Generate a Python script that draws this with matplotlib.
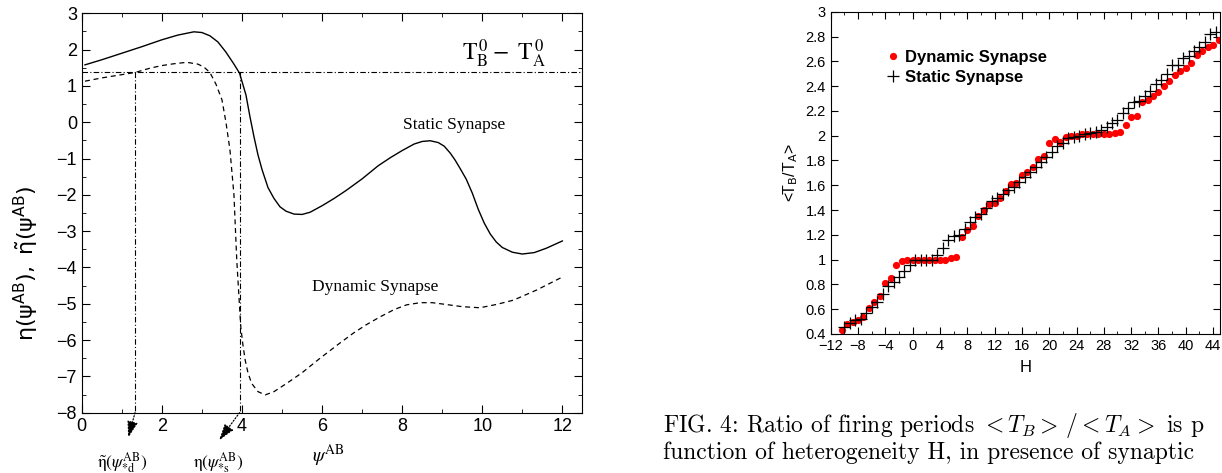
import matplotlib
matplotlib.use("Agg")
import matplotlib.pyplot as plt
from matplotlib.ticker import MultipleLocator, FuncFormatter

# left panel: eta curves
psi_static = [0.08, 0.5, 1.0, 1.5, 2.0, 2.4, 2.8, 3.0, 3.2, 3.4, 3.6, 3.8, 3.94, 4.1, 4.2,
              4.3, 4.4, 4.5, 4.65, 4.8, 4.95, 5.1, 5.3, 5.5, 5.7, 6.0, 6.3, 6.6, 7.0, 7.4,
              7.7, 8.0, 8.3, 8.5, 8.7, 8.9, 9.05, 9.2, 9.32, 9.45, 9.6, 9.75, 9.9, 10.05,
              10.2, 10.35, 10.5, 10.75, 11.0, 11.3, 11.6, 12.0]
eta_static = [1.58, 1.72, 1.90, 2.08, 2.27, 2.40, 2.49, 2.47, 2.38, 2.21, 1.93, 1.60, 1.35,
              0.75, 0.15, -0.40, -0.90, -1.30, -1.80, -2.10, -2.33, -2.45, -2.53, -2.54,
              -2.48, -2.30, -2.10, -1.88, -1.56, -1.20, -0.98, -0.78, -0.60, -0.53, -0.51,
              -0.56, -0.66, -0.85, -1.04, -1.28, -1.57, -1.95, -2.40, -2.78, -3.08, -3.30,
              -3.45, -3.58, -3.63, -3.59, -3.47, -3.27]

psi_dynamic = [0.08, 0.5, 1.0, 1.33, 1.71, 2.0, 2.3, 2.62, 2.9, 3.05, 3.2, 3.35, 3.5, 3.6,
               3.7, 3.8, 3.87, 3.93, 3.97, 4.02, 4.08, 4.15, 4.24, 4.4, 4.58, 4.8, 5.12, 5.5,
               5.95, 6.4, 6.78, 7.1, 7.45, 7.8, 8.11, 8.45, 8.75, 9.03, 9.5, 9.94, 10.35,
               10.78, 11.36, 11.97]
eta_dynamic = [1.13, 1.22, 1.31, 1.37, 1.49, 1.56, 1.61, 1.65, 1.60, 1.52, 1.37, 1.05, 0.62,
               0.0, -0.76, -2.0, -3.79, -4.9, -5.63, -6.1, -6.55, -6.9, -7.19, -7.42, -7.51,
               -7.42, -7.19, -6.9, -6.50, -6.12, -5.81, -5.58, -5.36, -5.16, -5.03, -4.97,
               -4.97, -5.01, -5.08, -5.11, -5.02, -4.90, -4.62, -4.28]

level = 1.37
psi_cross_d = 1.33
psi_cross_s = 3.94

# right panel: ratio of firing periods vs heterogeneity
dyn_H = [-10.4, -9.6, -8.8, -8.0, -7.2, -6.4, -5.6, -4.8, -4.0, -3.2, -2.4, -1.6, -0.8, 0.0,
         0.8, 1.6, 2.4, 3.2, 4.0, 4.8, 5.6, 6.4, 7.2, 8.0, 8.8, 9.6, 10.4, 11.2, 12.0, 12.8,
         13.6, 14.4, 15.2, 16.0, 16.8, 17.6, 18.4, 19.2, 20.0, 20.8, 21.6, 22.4, 23.2, 24.0,
         24.8, 25.6, 26.4, 27.2, 28.0, 28.8, 29.6, 30.4, 31.2, 32.0, 32.8, 33.6, 34.4, 35.2,
         36.0, 36.8, 37.6, 38.4, 39.2, 40.0, 40.8, 41.6, 42.4, 43.2, 44.0, 44.8]
dyn_ratio = [0.43, 0.48, 0.50, 0.51, 0.54, 0.61, 0.66, 0.71, 0.81, 0.85, 0.96, 0.99, 1.00,
             1.00, 1.00, 1.00, 1.00, 1.00, 1.00, 1.00, 1.01, 1.02, 1.18, 1.24, 1.27, 1.35,
             1.40, 1.45, 1.46, 1.50, 1.55, 1.61, 1.62, 1.68, 1.71, 1.75, 1.81, 1.84, 1.94,
             1.97, 1.95, 1.99, 2.00, 2.00, 2.01, 2.01, 2.01, 2.01, 2.01, 2.01, 2.02, 2.03,
             2.09, 2.15, 2.16, 2.27, 2.29, 2.32, 2.35, 2.40, 2.44, 2.49, 2.52, 2.55, 2.59,
             2.65, 2.68, 2.72, 2.73, 2.77]

stat_H = [-10.0, -9.2, -8.4, -7.6, -6.8, -6.0, -5.2, -4.4, -3.6, -2.8, -2.0, -1.2, -0.4, 0.4,
          1.2, 2.0, 2.8, 3.6, 4.4, 5.2, 6.0, 6.8, 7.6, 8.4, 9.2, 10.0, 10.8, 11.6, 12.4, 13.2,
          14.0, 14.8, 15.6, 16.4, 17.2, 18.0, 18.8, 19.6, 20.4, 21.2, 22.0, 22.8, 23.6, 24.4,
          25.2, 26.0, 26.8, 27.6, 28.4, 29.2, 30.0, 30.8, 31.6, 32.4, 33.2, 34.0, 34.8, 35.6,
          36.4, 37.2, 38.0, 38.8, 39.6, 40.4, 41.2, 42.0, 42.8, 43.6, 44.4]
stat_ratio = [0.46, 0.49, 0.51, 0.52, 0.57, 0.62, 0.66, 0.72, 0.79, 0.82, 0.86, 0.91, 0.96,
              1.00, 1.00, 1.00, 1.00, 1.04, 1.09, 1.16, 1.19, 1.20, 1.25, 1.30, 1.34, 1.37,
              1.42, 1.47, 1.50, 1.53, 1.56, 1.59, 1.63, 1.67, 1.71, 1.75, 1.79, 1.83, 1.87,
              1.92, 1.94, 1.98, 1.99, 2.00, 2.01, 2.02, 2.03, 2.05, 2.07, 2.10, 2.13, 2.18,
              2.22, 2.27, 2.28, 2.32, 2.36, 2.42, 2.45, 2.50, 2.57, 2.57, 2.63, 2.64, 2.68,
              2.72, 2.76, 2.82, 2.84]

plt.rcParams['mathtext.fontset'] = 'stix'
plt.rcParams['font.family'] = ['Liberation Sans', 'DejaVu Sans']
serif = ['Liberation Serif', 'DejaVu Serif']

fig = plt.figure(figsize=(12.22, 4.73), dpi=100)

# ---------------- left panel
ax = fig.add_axes([0.0669, 0.1275, 0.4097, 0.8444])
ax.plot(psi_static, eta_static, color='black', lw=1.0)
ax.plot(psi_dynamic, eta_dynamic, color='black', lw=0.9, linestyle=(0, (4, 3)))
dashdot = (0, (5, 2, 1, 2))
ax.axhline(level, color='black', lw=0.8, linestyle=dashdot)
ax.plot([psi_cross_d, psi_cross_d], [level, -8], color='black', lw=0.8, linestyle=dashdot)
ax.plot([psi_cross_s, psi_cross_s], [level, -8], color='black', lw=0.8, linestyle=dashdot)

ax.set_xlim(0, 12.5)
ax.set_ylim(-8, 3)
ax.xaxis.set_major_locator(MultipleLocator(2))
ax.xaxis.set_minor_locator(MultipleLocator(1))
ax.yaxis.set_major_locator(MultipleLocator(1))
ax.yaxis.set_minor_locator(MultipleLocator(0.5))
ax.tick_params(which='both', direction='in', top=True, right=True, labelsize=13)
ax.tick_params(which='major', length=6)
ax.tick_params(which='minor', length=3)
ax.set_ylabel(r'$\mathrm{\eta(\psi^{AB}),\ \tilde{\eta}(\psi^{AB})}$', fontsize=16,
              math_fontfamily='dejavusans')
ax.yaxis.set_label_coords(-0.082, 0.375)

ax.text(9.30, -0.08, 'Static Synapse', family=serif, fontsize=12.5, ha='center', va='center')
ax.text(7.32, -4.53, 'Dynamic Synapse', family=serif, fontsize=12.5, ha='center', va='center')
ax.text(10.54, 1.88, r'$\mathrm{T}_{\mathrm{B}}^{\,0}-\ \mathrm{T}_{\mathrm{A}}^{\,0}$',
        fontsize=17, ha='center', va='center')
ax.text(6.15, -9.2, r'$\psi^{\mathrm{AB}}$', fontsize=14, ha='center', va='center', clip_on=False)
ax.text(1.01, -9.38, r'$\tilde{\mathrm{\eta}}(\psi^{\mathrm{AB}}_{*\mathrm{d}})$', fontsize=12.5,
        ha='center', va='center', clip_on=False)
ax.text(3.40, -9.38, r'$\mathrm{\eta}(\psi^{\mathrm{AB}}_{*\mathrm{s}})$', fontsize=12.5,
        ha='center', va='center', clip_on=False)
arrow = dict(arrowstyle='-|>,head_length=1.0,head_width=0.32', color='black', lw=0.9,
             linestyle=(0, (1, 1.5)), shrinkA=0, shrinkB=0)
ax.annotate('', xy=(1.16, -8.69), xytext=(psi_cross_d, -8), arrowprops=arrow,
            annotation_clip=False)
ax.annotate('', xy=(3.43, -8.76), xytext=(psi_cross_s, -8), arrowprops=arrow,
            annotation_clip=False)

# ---------------- right panel
bx = fig.add_axes([0.6798, 0.294, 0.3185, 0.681])
bx.plot(dyn_H, dyn_ratio, 'o', color='#ff0000', markersize=5.2, markeredgewidth=0,
        label='Dynamic Synapse')
bx.plot(stat_H, stat_ratio, '+', color='black', markersize=9, markeredgewidth=0.9,
        label='Static Synapse')
bx.set_xlim(-12, 45)
bx.set_ylim(0.4, 3)
bx.xaxis.set_major_locator(MultipleLocator(4))
bx.xaxis.set_minor_locator(MultipleLocator(2))
bx.yaxis.set_major_locator(MultipleLocator(0.2))
bx.yaxis.set_major_formatter(FuncFormatter(lambda v, p: '%g' % round(v, 2)))
bx.tick_params(which='both', direction='in', top=True, right=True, labelsize=10.5)
bx.tick_params(which='major', length=5)
bx.tick_params(which='minor', length=2.5)
bx.set_xlabel('H', fontsize=12, labelpad=5)
bx.set_ylabel('<T$_{\\mathrm{B}}$/T$_{\\mathrm{A}}$>', fontsize=11.5, labelpad=4,
              math_fontfamily='dejavusans')
bx.legend(loc='upper left', bbox_to_anchor=(0.14, 0.883), frameon=False,
          prop={'weight': 'bold', 'size': 12}, handletextpad=0.3,
          labelspacing=0.3, handlelength=0.9, borderaxespad=0, borderpad=0)

# ---------------- caption (cut at the right edge, as in the page scan)
fig.text(0.5425, 0.100, r'FIG. 4: Ratio of firing periods $<T_B>\,/<T_A>$ is p',
         family='cmr10', fontsize=17, va='center', math_fontfamily='cm')
fig.text(0.5425, 0.043, 'function of heterogeneity H, in presence of synaptic',
         family='cmr10', fontsize=17, va='center')

fig.savefig('out.png', dpi=100)
